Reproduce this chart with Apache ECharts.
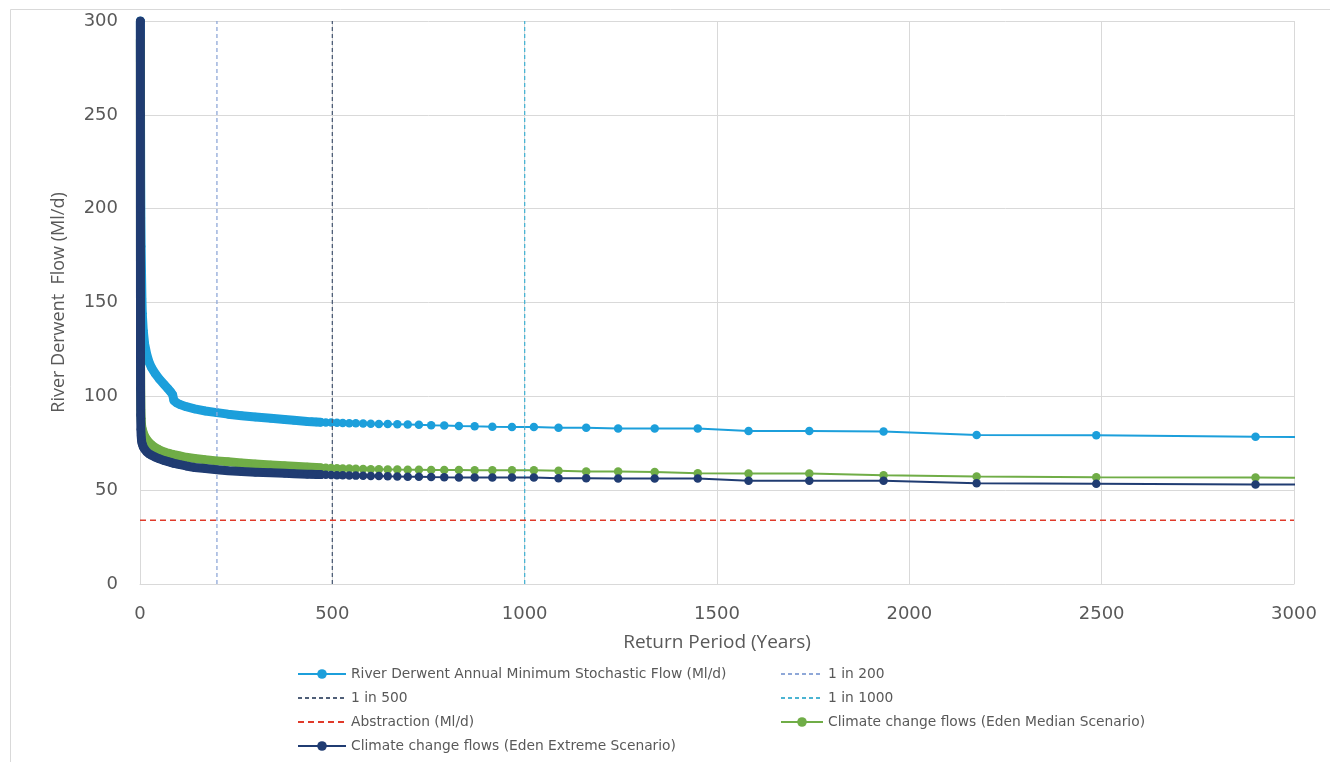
<!DOCTYPE html>
<html>
<head>
<meta charset="utf-8">
<script src="https://cdn.jsdelivr.net/npm/echarts@6/dist/echarts.min.js"></script>
<style>
  html, body { margin: 0; padding: 0; background: #ffffff; }
  #chart { width: 1330px; height: 762px; }
</style>
</head>
<body>
<div id="chart"></div>
<script>
// Return period (years) shared by the three flow curves
const years = [1, 1.05, 1.1, 1.2, 1.35, 1.5, 1.8, 2.3, 3, 4,
  5, 6, 8.5, 12, 18, 24, 30, 40, 50, 64,
  73, 80, 85, 88, 95, 104, 120, 142, 170, 200,
  229, 264, 300, 340, 376, 400, 435, 446, 458, 470,
  483, 497, 512, 527, 544, 561, 580, 600, 621, 644,
  669, 696, 725, 757, 791, 829, 870, 916, 967, 1024,
  1088, 1160, 1243, 1338, 1450, 1582, 1740, 1933, 2175, 2486,
  2900, 3480];

// River Derwent Annual Minimum Stochastic Flow (Ml/d)
const derwentFlow = [300, 295, 290, 280, 260, 240, 215, 195, 180, 165,
  152, 144, 135, 128, 122, 118, 115.3, 112, 109.3, 106,
  104, 102.3, 100.8, 97.8, 96.6, 95.6, 94.5, 93.3, 92.2, 91.3,
  90.5, 89.7, 89.0, 88.3, 87.6, 87.2, 86.6, 86.5, 86.35, 86.2,
  86.1, 86.0, 85.9, 85.8, 85.7, 85.6, 85.5, 85.4, 85.3, 85.2,
  85.1, 85.0, 84.8, 84.6, 84.4, 84.2, 84.0, 83.8, 83.7, 83.7,
  83.3, 83.3, 82.8, 82.8, 82.8, 81.5, 81.5, 81.3, 79.4, 79.3,
  78.4, 78.3];

// Climate change flows (Eden Median Scenario)
const medianFlow = [290, 250, 215, 175, 140, 120, 103, 93, 88, 84.8,
  83.3, 82.3, 80.6, 78.8, 76.8, 75.3, 74.2, 72.6, 71.5, 70.3,
  69.7, 69.3, 69.0, 68.9, 68.6, 68.2, 67.5, 66.9, 66.2, 65.6,
  65.1, 64.5, 64.0, 63.4, 63.0, 62.7, 62.3, 62.2, 62.1, 62.0,
  61.9, 61.8, 61.7, 61.6, 61.5, 61.4, 61.3, 61.2, 61.1, 61.0,
  60.95, 60.9, 60.85, 60.8, 60.75, 60.7, 60.65, 60.6, 60.6, 60.6,
  60.3, 59.9, 59.9, 59.7, 59.0, 58.9, 58.9, 58.0, 57.3, 56.9,
  56.7, 56.3];

// Climate change flows (Eden Extreme Scenario)
const extremeFlow = [300, 250, 200, 155, 122, 104, 90, 82.5, 79, 76.5,
  75.2, 74.3, 73, 71.8, 70.3, 69.3, 68.6, 67.6, 66.7, 65.7,
  65.2, 64.8, 64.5, 64.3, 64.0, 63.6, 62.9, 62.1, 61.5, 60.9,
  60.4, 60.0, 59.6, 59.3, 59.0, 58.8, 58.5, 58.45, 58.4, 58.3,
  58.2, 58.1, 58.0, 57.9, 57.8, 57.75, 57.7, 57.6, 57.5, 57.4,
  57.3, 57.2, 57.1, 57.0, 56.9, 56.8, 56.75, 56.7, 56.7, 56.7,
  56.4, 56.4, 56.2, 56.2, 56.2, 55.0, 55.0, 55.0, 53.7, 53.4,
  53.0, 52.8];

// Reference lines
const returnPeriodLines = [200, 500, 1000];
const returnPeriodNames = ['1 in 200', '1 in 500', '1 in 1000'];
const abstractionFlow = 34;

// Axis ranges / ticks
const xTicks = [0, 500, 1000, 1500, 2000, 2500, 3000];
const yTicks = [0, 50, 100, 150, 200, 250, 300];

const NAMES = {
  derwent: 'River Derwent Annual Minimum Stochastic Flow (Ml/d)',
  abstraction: 'Abstraction (Ml/d)',
  median: 'Climate change flows (Eden Median Scenario)',
  extreme: 'Climate change flows (Eden Extreme Scenario)'
};
const COLORS = {
  derwent: '#1C9FDB',
  median: '#70AD47',
  extreme: '#203C72',
  l200: '#8FA8D8',
  l500: '#4F5F78',
  l1000: '#4BB4D2',
  abstraction: '#E03A2A'
};

const pairs = (arr) => years.map((x, i) => [x, arr[i]]);
const bandPairs = (arr) => pairs(arr).filter(p => p[0] <= 470);

function mainSeries(name, arr, color, z) {
  return {
    name: name, type: 'line', data: pairs(arr), z: z,
    symbol: 'circle', symbolSize: 8.5, showSymbol: true,
    itemStyle: { color: color },
    lineStyle: { color: color, width: 2 },
    animation: false
  };
}
function bandSeries(id, arr, color, z) {
  return {
    name: id, type: 'line', data: bandPairs(arr), silent: true, z: z,
    symbol: 'none',
    lineStyle: { color: color, width: 9, cap: 'round', join: 'round' },
    animation: false
  };
}
function vLine(name, x, color, z) {
  return {
    name: name, type: 'line', data: [[x, yTicks[0]], [x, yTicks[yTicks.length - 1]]], z: z,
    symbol: 'none', itemStyle: { color: color },
    lineStyle: { color: color, width: 1.3, type: [4, 3] },
    animation: false
  };
}

const series = [
  bandSeries('_band_derwent', derwentFlow, COLORS.derwent, 2),
  mainSeries(NAMES.derwent, derwentFlow, COLORS.derwent, 3),
  vLine(returnPeriodNames[0], returnPeriodLines[0], COLORS.l200, 4),
  vLine(returnPeriodNames[1], returnPeriodLines[1], COLORS.l500, 4),
  vLine(returnPeriodNames[2], returnPeriodLines[2], COLORS.l1000, 4),
  {
    name: NAMES.abstraction, type: 'line', z: 4,
    data: [[xTicks[0], abstractionFlow], [xTicks[xTicks.length - 1], abstractionFlow]],
    symbol: 'none', itemStyle: { color: COLORS.abstraction },
    lineStyle: { color: COLORS.abstraction, width: 1.5, type: [6, 4] },
    animation: false
  },
  bandSeries('_band_median', medianFlow, COLORS.median, 5),
  mainSeries(NAMES.median, medianFlow, COLORS.median, 6),
  bandSeries('_band_extreme', extremeFlow, COLORS.extreme, 7),
  mainSeries(NAMES.extreme, extremeFlow, COLORS.extreme, 8)
];

const FONT = 'Open Sans';
const TICKFONT = 'DejaVu Sans';
const legendText = { fontFamily: 'DejaVu Sans', fontSize: 13.8, color: '#595959' };
const noSym = (name) => ({ name: name, itemStyle: { opacity: 0 } });

const chart = echarts.init(document.getElementById('chart'), null, { renderer: 'canvas' });
chart.setOption({
  animation: false,
  backgroundColor: '#ffffff',
  graphic: [{
    type: 'rect', left: 8, top: 7, silent: true,
    shape: { width: 1320, height: 800 },
    style: { fill: 'none', stroke: '#d9d9d9', lineWidth: 1 }
  }],
  grid: { left: 140, right: 36, top: 21, bottom: 178, containLabel: false },
  xAxis: {
    type: 'value', min: xTicks[0], max: xTicks[xTicks.length - 1], interval: 500,
    name: 'Return Period (Years)', nameLocation: 'middle', nameGap: 49,
    nameTextStyle: { fontFamily: FONT, fontSize: 19, color: '#595959' },
    axisLine: { show: true, lineStyle: { color: '#d9d9d9', width: 1 } },
    axisTick: { show: false },
    axisLabel: { fontFamily: TICKFONT, fontSize: 18, color: '#595959', margin: 21,
      formatter: (v) => String(v) },
    splitLine: { show: true, lineStyle: { color: '#d9d9d9', width: 1 } }
  },
  yAxis: {
    type: 'value', min: yTicks[0], max: yTicks[yTicks.length - 1], interval: 50,
    name: 'River Derwent  Flow (Ml/d)', nameLocation: 'middle', nameGap: 72, nameRotate: 90,
    nameTextStyle: { fontFamily: FONT, fontSize: 18, color: '#595959' },
    axisLine: { show: true, lineStyle: { color: '#d9d9d9', width: 1 } },
    axisTick: { show: false },
    axisLabel: { fontFamily: TICKFONT, fontSize: 18, color: '#595959', margin: 22,
      formatter: (v) => String(v) },
    splitLine: { show: true, lineStyle: { color: '#d9d9d9', width: 1 } }
  },
  legend: [
    {
      orient: 'vertical', left: 292, top: 662, itemWidth: 48, itemHeight: 12, itemGap: 10,
      height: 100, textStyle: legendText, selectedMode: false,
      data: [NAMES.derwent, noSym(returnPeriodNames[1]), noSym(NAMES.abstraction), NAMES.extreme]
    },
    {
      orient: 'vertical', left: 775, top: 662, itemWidth: 42, itemHeight: 12, itemGap: 10,
      height: 100, textStyle: legendText, selectedMode: false,
      data: [noSym(returnPeriodNames[0]), noSym(returnPeriodNames[2]), NAMES.median]
    }
  ],
  series: series
});
</script>
</body>
</html>
